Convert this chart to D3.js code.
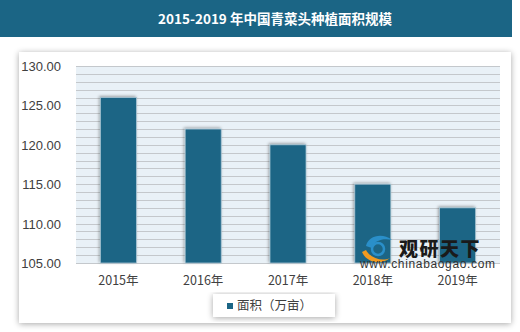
<!DOCTYPE html>
<html>
<head>
<meta charset="utf-8">
<script src="https://cdn.jsdelivr.net/npm/d3@7/dist/d3.min.js"></script>
<style>
html,body{margin:0;padding:0;background:#fff;}
svg{display:block;}
</style>
</head>
<body>
<svg id="c" width="520" height="332"></svg>
<script>
const categories = ["2015年","2016年","2017年","2018年","2019年"];
const values = [126, 122, 120, 115, 112];
const yTicks = [105, 110, 115, 120, 125, 130];
const title = "2015-2019 年中国青菜头种植面积规模";
const seriesName = "面积（万亩）";

const svg = d3.select("#c");
const defs = svg.append("defs");
const sh = defs.append("filter").attr("id","sh").attr("x","-10%").attr("y","-10%").attr("width","130%").attr("height","130%");
sh.append("feGaussianBlur").attr("in","SourceAlpha").attr("stdDeviation",3);
sh.append("feOffset").attr("dx",0).attr("dy",1).attr("result","b");
sh.append("feComponentTransfer").append("feFuncA").attr("type","linear").attr("slope",0.35);
const m1 = sh.append("feMerge"); m1.append("feMergeNode"); m1.append("feMergeNode").attr("in","SourceGraphic");

const bs = defs.append("filter").attr("id","bs").attr("x","-30%").attr("y","-10%").attr("width","160%").attr("height","130%");
bs.append("feGaussianBlur").attr("in","SourceAlpha").attr("stdDeviation",1.6);
bs.append("feOffset").attr("dx",-1).attr("dy",-1);
bs.append("feComponentTransfer").append("feFuncA").attr("type","linear").attr("slope",0.35);
const m2 = bs.append("feMerge"); m2.append("feMergeNode"); m2.append("feMergeNode").attr("in","SourceGraphic");

// title bar
svg.append("rect").attr("x",0).attr("y",0).attr("width",512).attr("height",37).attr("fill","#1b6585");
svg.append("text").attr("x",275).attr("y",23.5).attr("text-anchor","middle")
  .attr("fill","#fff").attr("font-family","'Noto Sans CJK SC', 'DejaVu Sans', sans-serif")
  .attr("font-weight","bold").attr("font-size",13.5).text(title);

// card
svg.append("rect").attr("x",19).attr("y",52).attr("width",492).attr("height",271).attr("fill","#fff").attr("filter","url(#sh)");

const x0 = 76, x1 = 500, y0 = 66, y1 = 263;
const x = d3.scaleBand().domain(categories).range([x0,x1]).paddingInner(0.575).paddingOuter(0.2875);
const y = d3.scaleLinear().domain([105,130]).range([y1,y0]);

svg.append("rect").attr("x",x0).attr("y",y0).attr("width",x1-x0).attr("height",y1-y0).attr("fill","#e9f1f7");

const grid = d3.range(105,131,1);
svg.append("g").selectAll("line").data(grid).join("line")
  .attr("x1",x0).attr("x2",x1).attr("y1",d=>Math.round(y(d))+0.5).attr("y2",d=>Math.round(y(d))+0.5)
  .attr("stroke","#c4c8cc").attr("stroke-width",1);

// y axis labels
const yAxis = d3.axisLeft(y).tickValues(yTicks).tickFormat(d3.format(".2f")).tickSize(0).tickPadding(0);
const ga = svg.append("g").attr("transform",`translate(61,0)`).call(yAxis);
ga.select(".domain").remove();
ga.selectAll("text").attr("font-family","'Liberation Sans', Arial, sans-serif").attr("font-size",13).attr("fill","#404040").attr("dy","0.35em");

// bars
svg.append("g").selectAll("rect").data(values).join("rect")
  .attr("x",(d,i)=>x(categories[i])).attr("width",x.bandwidth())
  .attr("y",d=>y(d)).attr("height",d=>y(105)-y(d))
  .attr("fill","#1b6585").attr("stroke","#a9c4d3").attr("stroke-width",0.8)
  .attr("filter","url(#bs)");

// x axis labels
const xAxis = d3.axisBottom(x).tickSize(0).tickPadding(0);
const gx = svg.append("g").attr("transform",`translate(0,${y1})`).call(xAxis);
gx.select(".domain").remove();
gx.selectAll("text").attr("font-family","'Noto Sans CJK SC', sans-serif").attr("font-size",12.5).attr("fill","#404040").attr("dy","0").attr("y",22);

// watermark
const wm = svg.append("g");
wm.append("path").attr("d","M362,252 C366,262 380,266 390,258 C382,262 370,258 366,250 Z").attr("fill","#f29a1f");
wm.append("path").attr("d","M366,246 C368,236 382,232 392,240 C384,238 374,240 372,248 Z").attr("fill","#2a8fc9");
wm.append("circle").attr("cx",378).attr("cy",249).attr("r",6).attr("fill","none").attr("stroke","#2a8fc9").attr("stroke-width",2.5);
wm.append("text").attr("x",399).attr("y",256).attr("font-family","'Noto Sans CJK SC', sans-serif").attr("font-weight","900")
  .attr("font-size",19).attr("fill","#1a1a1a").attr("letter-spacing",1.5).text("观研天下");
wm.append("text").attr("x",360).attr("y",268).attr("font-family","'Liberation Sans', Arial, sans-serif")
  .attr("font-size",12).attr("fill","#333").attr("textLength",135).text("www.chinabaogao.com");

// legend
svg.append("rect").attr("x",213).attr("y",294).attr("width",122).attr("height",23).attr("fill","#fff").attr("filter","url(#sh)");
svg.append("rect").attr("x",227).attr("y",303).attr("width",6).attr("height",6).attr("fill","#1b6585");
svg.append("text").attr("x",237).attr("y",310).attr("font-family","'Noto Sans CJK SC', sans-serif").attr("font-size",12.5)
  .attr("fill","#404040").text(seriesName);
</script>
</body>
</html>
